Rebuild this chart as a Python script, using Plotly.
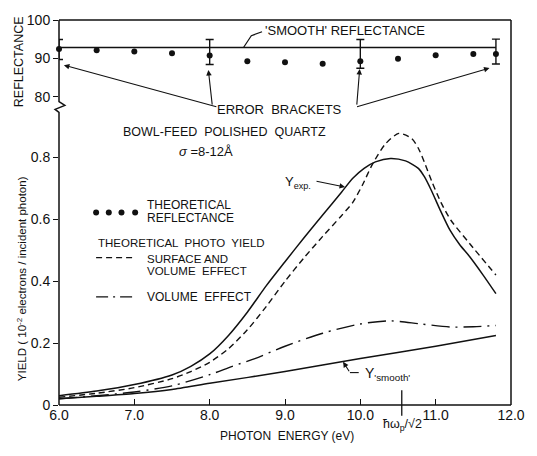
import plotly.graph_objects as go

# ---------------- data ----------------
E_exp = [6.0, 6.5, 7.0, 7.5, 7.75, 8.0, 8.25, 8.5, 8.75, 9.0, 9.25, 9.5, 9.75, 9.9, 10.05, 10.2, 10.4,
         10.6, 10.77, 10.85, 10.94, 11.06, 11.19, 11.32, 11.45, 11.63, 11.8]
Y_exp = [0.030, 0.045, 0.066, 0.097, 0.125, 0.165, 0.225, 0.300, 0.385, 0.463, 0.540, 0.614, 0.688, 0.733, 0.765, 0.786, 0.797,
         0.789, 0.765, 0.738, 0.695, 0.630, 0.565, 0.518, 0.480, 0.420, 0.360]

E_sv = [6.0, 6.5, 7.0, 7.5, 7.75, 8.0, 8.25, 8.5, 8.75, 9.0, 9.25, 9.5, 9.75, 9.9, 10.03, 10.16, 10.33,
        10.51, 10.68, 10.77, 10.85, 10.95, 11.07, 11.2, 11.45, 11.8]
Y_sv = [0.025, 0.038, 0.056, 0.085, 0.108, 0.138, 0.182, 0.243, 0.318, 0.400, 0.475, 0.545, 0.612, 0.655, 0.712, 0.778, 0.843,
        0.878, 0.862, 0.830, 0.785, 0.722, 0.655, 0.598, 0.522, 0.420]

E_vol = [6.0, 6.5, 7.0, 7.5, 8.0, 8.3, 8.6, 9.0, 9.5, 10.0, 10.4, 10.8, 11.2, 11.5, 11.8]
Y_vol = [0.020, 0.030, 0.042, 0.062, 0.098, 0.125, 0.150, 0.190, 0.232, 0.262, 0.272, 0.262, 0.252, 0.253, 0.257]

E_smooth = [6.0, 6.5, 7.0, 7.5, 8.0, 9.0, 10.0, 11.0, 11.8]
Y_smooth = [0.020, 0.028, 0.037, 0.050, 0.070, 0.108, 0.150, 0.190, 0.225]

E_refl = [6.0, 6.5, 7.0, 7.5, 8.0, 8.5, 9.0, 9.5, 10.0, 10.5, 11.0, 11.5, 11.8]
R_refl = [92.4, 92.1, 91.8, 91.3, 90.7, 89.2, 89.0, 88.6, 89.2, 89.9, 90.8, 91.1, 91.1]

E_err = [6.0, 8.0, 10.0, 11.8]
R_err_top = [94.9, 94.9, 94.9, 95.0]
R_err_bot = [89.7, 88.4, 87.4, 88.5]

E_smooth_refl = [6.0, 11.8]
R_smooth_refl = [92.8, 92.8]

E_plasmon = 10.55

x_ticks = [6, 7, 8, 9, 10, 11, 12]
x_ticktext = ["6.0", "7.0", "8.0", "9.0", "10.0", "11.0", "12.0"]
y_ticks = [0, 0.2, 0.4, 0.6, 0.8]
y_ticktext = ["0", "0.2", "0.4", "0.6", "0.8"]
r_ticks = [80, 90, 100]
r_ticktext = ["80", "90", "100"]

# ---------------- layout geometry ----------------
W, H = 537, 456
L, R, T, B = 59, 15, 13, 51
PW, PH = W - L - R, H - T - B


def px(xp):
    return (xp - L) / PW


def py(yp):
    return (H - B - yp) / PH


SPLIT_PX = 103
split = py(SPLIT_PX)
Y_TOP = (H - B - SPLIT_PX) / 315.0          # yield axis: 0.2 per 63 px
R_BOT = 100 - (SPLIT_PX - T) / 3.9           # reflectance axis: 10 per 39 px


def data_x(xp):
    return 6 + (xp - L) / (PW / 6.0)


def data_y(yp):
    return (H - B - yp) / 315.0


FONT = "Liberation Sans"
INK = "#111111"

fig = go.Figure()

# ---------------- bottom panel curves ----------------
fig.add_trace(go.Scatter(x=E_exp, y=Y_exp, mode="lines", line=dict(color=INK, width=1.5, shape="spline", smoothing=0.7),
                         xaxis="x", yaxis="y", showlegend=False))
fig.add_trace(go.Scatter(x=E_sv, y=Y_sv, mode="lines", line=dict(color=INK, width=1.4, dash="6px,4px", shape="spline", smoothing=0.7),
                         xaxis="x", yaxis="y", showlegend=False))
fig.add_trace(go.Scatter(x=E_vol, y=Y_vol, mode="lines", line=dict(color=INK, width=1.4, dash="18px,6px,2px,6px", shape="spline", smoothing=0.8),
                         xaxis="x", yaxis="y", showlegend=False))
fig.add_trace(go.Scatter(x=E_smooth, y=Y_smooth, mode="lines", line=dict(color=INK, width=1.5, shape="spline", smoothing=0.6),
                         xaxis="x", yaxis="y", showlegend=False))

# ---------------- top panel ----------------
fig.add_trace(go.Scatter(x=E_smooth_refl, y=R_smooth_refl, mode="lines", line=dict(color=INK, width=1.5),
                         xaxis="x2", yaxis="y2", showlegend=False, cliponaxis=False))
fig.add_trace(go.Scatter(x=E_refl, y=R_refl, mode="markers", marker=dict(color=INK, size=6),
                         xaxis="x2", yaxis="y2", showlegend=False, cliponaxis=False))
mid = [(a + b) / 2 for a, b in zip(R_err_top, R_err_bot)]
half = [(a - b) / 2 for a, b in zip(R_err_top, R_err_bot)]
fig.add_trace(go.Scatter(x=E_err, y=mid, mode="markers", marker=dict(color=INK, size=0.1, opacity=0),
                         error_y=dict(type="data", array=half, symmetric=True, color=INK, thickness=1.4, width=4),
                         xaxis="x2", yaxis="y2", showlegend=False, cliponaxis=False))

# ---------------- hand-drawn legend (inside plot) ----------------
leg_dot_px = [97, 110, 123, 137]
fig.add_trace(go.Scatter(x=[data_x(v) for v in leg_dot_px], y=[data_y(209)] * 4, mode="markers",
                         marker=dict(color=INK, size=6), xaxis="x", yaxis="y", showlegend=False))

shapes = []
# legend line samples
shapes.append(dict(type="line", xref="paper", yref="paper", x0=px(97), x1=px(137), y0=py(255), y1=py(255),
                   line=dict(color=INK, width=1.3, dash="6px,4px")))
shapes.append(dict(type="line", xref="paper", yref="paper", x0=px(97), x1=px(137), y0=py(295), y1=py(295),
                   line=dict(color=INK, width=1.3, dash="12px,5px,2px,5px")))

# frame with axis break on the left
fl = dict(color=INK, width=1.5)
shapes.append(dict(type="line", xref="paper", yref="paper", x0=0, x1=1, y0=1, y1=1, line=fl))
shapes.append(dict(type="line", xref="paper", yref="paper", x0=1, x1=1, y0=0, y1=1, line=fl))
shapes.append(dict(type="line", xref="paper", yref="paper", x0=0, x1=1, y0=0, y1=0, line=fl))
zig = [(59, 13), (59, 96), (65, 100), (55, 104), (59, 107), (59, 405)]
path = "M " + " L ".join(f"{px(a):.5f},{py(b):.5f}" for a, b in zig)
shapes.append(dict(type="path", xref="paper", yref="paper", path=path, line=fl))

# plasmon tick
shapes.append(dict(type="line", xref="x", yref="paper", x0=E_plasmon, x1=E_plasmon, y0=py(390), y1=py(416),
                   line=dict(color=INK, width=1.3)))

# 'smooth' reflectance leader
lead = [(248, 41), (256, 29), (267, 25)]
shapes.append(dict(type="path", xref="paper", yref="paper",
                   path="M " + " L ".join(f"{px(a):.5f},{py(b):.5f}" for a, b in lead), line=dict(color=INK, width=1.2)))

# Y'smooth' leader elbow
lead2 = [(366, 372), (357, 372)]
shapes.append(dict(type="path", xref="paper", yref="paper",
                   path="M " + " L ".join(f"{px(a):.5f},{py(b):.5f}" for a, b in lead2), line=dict(color=INK, width=1.1)))

ann = []


def text(x, y, s, size=12, xanchor="center", yanchor="middle", angle=0):
    ann.append(dict(xref="paper", yref="paper", x=px(x), y=py(y), text=s, showarrow=False,
                    xanchor=xanchor, yanchor=yanchor, textangle=angle,
                    font=dict(family=FONT, size=size, color=INK)))


def arrow(tail, head):
    ann.append(dict(xref="paper", yref="paper", x=px(head[0]), y=py(head[1]), axref="pixel", ayref="pixel",
                    ax=tail[0] - head[0], ay=tail[1] - head[1], text="", showarrow=True,
                    arrowhead=2, arrowsize=1, arrowwidth=1.1, arrowcolor=INK, standoff=0, startstandoff=0))


text(268, 24, "'SMOOTH' REFLECTANCE", 13, xanchor="left")
text(285, 104, "ERROR  BRACKETS", 13)
arrow((218, 101), (64, 59))
arrow((216, 100), (212, 64))
arrow((364, 100), (367, 63))
arrow((366, 101), (500, 62))

text(229, 127, "BOWL-FEED  POLISHED  QUARTZ", 12.5)
text(210, 147, "<i>σ</i> =8-12Å", 13)
text(147, 201, "THEORETICAL", 12, xanchor="left")
text(147, 215, "REFLECTANCE", 12, xanchor="left")
text(97, 240, "THEORETICAL  PHOTO  YIELD", 11.5, xanchor="left")
text(147, 256, "SURFACE AND", 11.5, xanchor="left")
text(147, 269, "VOLUME  EFFECT", 11.5, xanchor="left")
text(147, 295, "VOLUME  EFFECT", 12, xanchor="left")

text(304, 178, "Y<sub>exp.</sub>", 13)
arrow((322, 177), (352, 183))
text(396, 373, "Y<sub>'smooth'</sub>", 14)
arrow((357, 372), (350, 361))

text(411, 425, "ħω<sub>p</sub>/√2", 12.5)
text(293, 437, "PHOTON  ENERGY (eV)", 12)
text(21, 276, "YIELD ( 10<sup>-2</sup> electrons / incident photon)", 11.5, angle=-90)
text(18, 55, "REFLECTANCE", 12.5, angle=-90)

tickfont = dict(family=FONT, size=14, color=INK)
fig.update_layout(
    width=W, height=H,
    margin=dict(l=L, r=R, t=T, b=B, pad=0),
    paper_bgcolor="white", plot_bgcolor="white",
    showlegend=False,
    xaxis=dict(domain=[0, 1], range=[6, 12], anchor="y", tickvals=x_ticks, ticktext=x_ticktext,
               ticks="inside", ticklen=6, tickwidth=1.3, tickcolor=INK, showgrid=False, zeroline=False,
               showline=False, tickfont=tickfont),
    yaxis=dict(domain=[0, split], range=[0, Y_TOP], anchor="x", tickvals=y_ticks, ticktext=y_ticktext,
               ticks="outside", ticklen=5, tickwidth=1.3, tickcolor=INK, showgrid=False, zeroline=False,
               showline=False, tickfont=tickfont),
    xaxis2=dict(domain=[0, 1], range=[6, 12], anchor="y2", matches="x", visible=False),
    yaxis2=dict(domain=[split, 1], range=[R_BOT, 100], anchor="x2", tickvals=r_ticks, ticktext=r_ticktext,
                ticks="outside", ticklen=5, tickwidth=1.3, tickcolor=INK, showgrid=False, zeroline=False,
                showline=False, tickfont=tickfont),
    shapes=shapes,
    annotations=ann,
)

fig.write_html("out.html")
